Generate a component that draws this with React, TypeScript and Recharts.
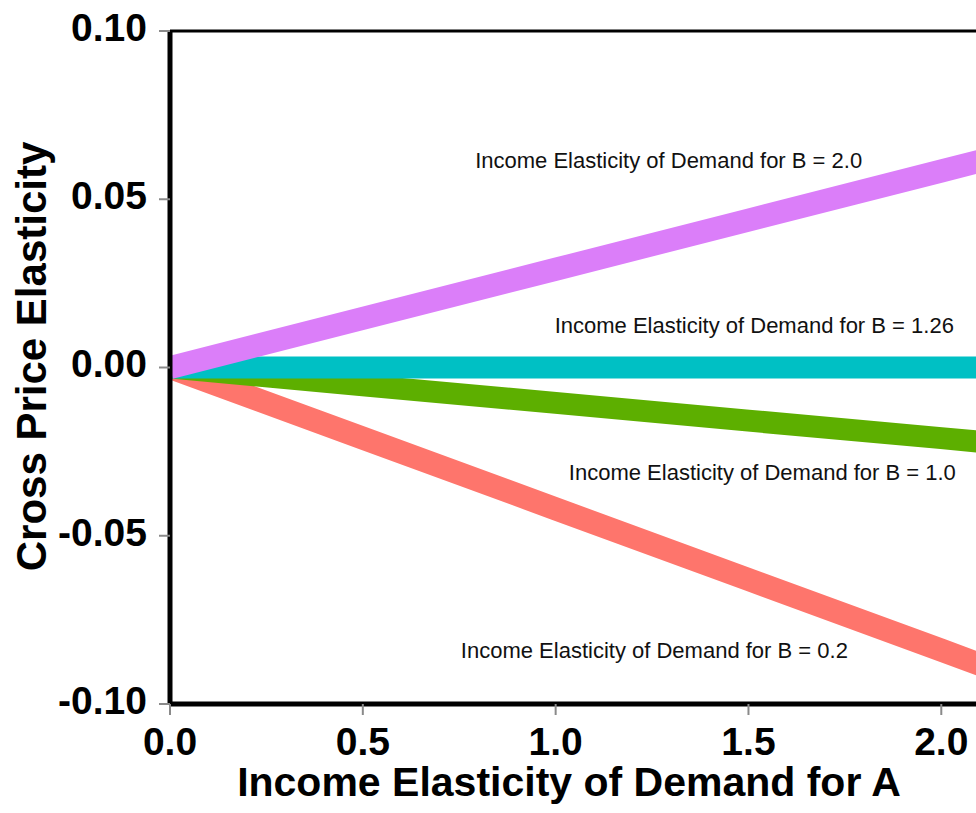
import { LineChart, Line, XAxis, YAxis, ReferenceLine, ReferenceDot } from "recharts";

const incomeA = [0, 0.5, 1.0, 1.5, 2.0, 2.2];
const cpeB20 = [0, 0.0146, 0.0292, 0.0438, 0.0584, 0.0642];
const cpeB126 = [0, 0, 0, 0, 0, 0];
const cpeB10 = [0, -0.0053, -0.0105, -0.0158, -0.021, -0.0231];
const cpeB02 = [0, -0.021, -0.042, -0.063, -0.084, -0.0925];

const xTicks = [0, 0.5, 1.0, 1.5, 2.0];
const yTicks = [-0.1, -0.05, 0, 0.05, 0.1];

const noteText = [
  "Income Elasticity of Demand for B = 2.0",
  "Income Elasticity of Demand for B = 1.26",
  "Income Elasticity of Demand for B = 1.0",
  "Income Elasticity of Demand for B = 0.2",
];
const noteX = [1.293, 1.515, 1.536, 1.256];
const noteY = [0.0617, 0.0125, -0.0312, -0.084];

const data = incomeA.map((x, i) => ({
  x,
  b20: cpeB20[i],
  b126: cpeB126[i],
  b10: cpeB10[i],
  b02: cpeB02[i],
}));

const font = '"Liberation Sans", Arial, sans-serif';
const tickStyle = { fill: "#000", fontSize: 39, fontWeight: 700, fontFamily: font };

// rotated y title, drawn next to the axis box
const YTitle = (props: any) => {
  const vb = props.viewBox || {};
  const cx = 46;
  const cy = vb.y + vb.height / 2 - 11;
  return (
    <text
      x={cx}
      y={cy}
      transform={`rotate(-90, ${cx}, ${cy})`}
      textAnchor="middle"
      fill="#000"
      fontSize={42}
      fontWeight={700}
      fontFamily={font}
    >
      Cross Price Elasticity
    </text>
  );
};

export default function App() {
  return (
    <div style={{ position: "absolute", left: 0, top: 0, width: 976, height: 813, background: "#fff" }}>
      <LineChart width={976} height={813} data={data} margin={{ top: 31, right: 0, left: 0, bottom: 0 }}>
        <XAxis
          dataKey="x"
          type="number"
          domain={[0, 2.09]}
          allowDataOverflow
          ticks={xTicks}
          tickFormatter={(v: number) => v.toFixed(1)}
          tick={tickStyle}
          tickSize={11}
          tickMargin={12}
          tickLine={{ stroke: "#8a8a8a", strokeWidth: 2 }}
          axisLine={{ stroke: "#000", strokeWidth: 5 }}
          height={109}
          label={{
            value: "Income Elasticity of Demand for A",
            position: "insideBottom",
            offset: 17,
            dx: -4,
            fill: "#000",
            fontSize: 41,
            fontWeight: 700,
            fontFamily: font,
          }}
        />
        <YAxis
          type="number"
          domain={[-0.1, 0.1]}
          ticks={yTicks}
          tickFormatter={(v: number) => v.toFixed(2)}
          tick={{ ...tickStyle, dy: -4 }}
          tickSize={11}
          tickMargin={12}
          tickLine={{ stroke: "#8a8a8a", strokeWidth: 2 }}
          axisLine={{ stroke: "#000", strokeWidth: 5 }}
          width={170}
          label={<YTitle />}
        />
        <ReferenceLine y={0.1} stroke="#000" strokeWidth={3} />
        <Line dataKey="b02" stroke="#FE756C" strokeWidth={23} dot={false} isAnimationActive={false} />
        <Line dataKey="b10" stroke="#5DAF00" strokeWidth={22} dot={false} isAnimationActive={false} />
        <Line dataKey="b126" stroke="#00C0C4" strokeWidth={22} dot={false} isAnimationActive={false} />
        <Line dataKey="b20" stroke="#DB7EF9" strokeWidth={23} dot={false} isAnimationActive={false} />
        {noteText.map((t, i) => (
          <ReferenceDot
            key={t}
            x={noteX[i]}
            y={noteY[i]}
            r={0}
            fill="none"
            stroke="none"
            label={{ value: t, position: "center", fill: "#111", fontSize: 22, fontFamily: font }}
          />
        ))}
      </LineChart>
    </div>
  );
}
